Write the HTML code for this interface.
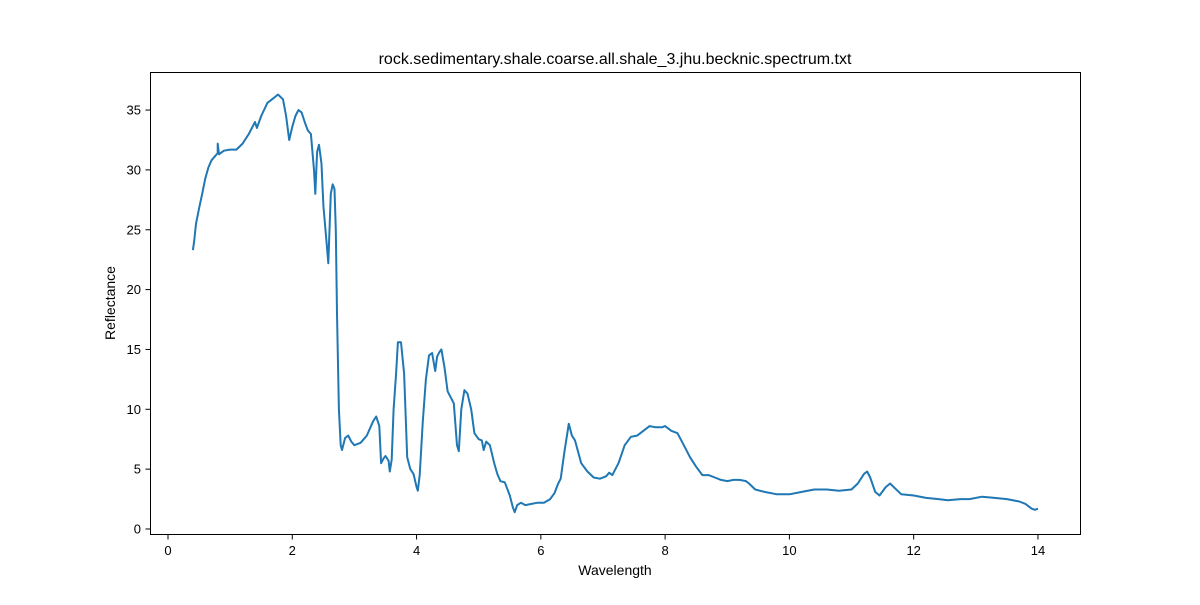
<!DOCTYPE html>
<html><head><meta charset="utf-8"><style>
body{margin:0;background:#fff;}
svg text{font-family:"Liberation Sans","DejaVu Sans",sans-serif;fill:#000;}
</style></head><body>
<svg id="chart" width="1200" height="600" xmlns="http://www.w3.org/2000/svg">
<rect width="1200" height="600" fill="#fff"/>
<text x="615" y="64" font-size="16" text-anchor="middle">rock.sedimentary.shale.coarse.all.shale_3.jhu.becknic.spectrum.txt</text>
<g id="xticks"></g><g id="yticks"></g>
<polyline id="line" fill="none" stroke="#1f77b4" stroke-width="2" stroke-linejoin="round"/>
<rect x="150.5" y="72.5" width="930" height="462" fill="none" stroke="#000" stroke-width="1"/>
<text x="615" y="575" font-size="14" text-anchor="middle">Wavelength</text>
<text x="115" y="303" font-size="14" text-anchor="middle" transform="rotate(-90 115 303)">Reflectance</text>
</svg>
<script>
const wavelengths=[0.4,0.42,0.45,0.5,0.55,0.6,0.65,0.7,0.75,0.8,0.8,0.82,0.9,1.0,1.1,1.2,1.3,1.35,1.4,1.43,1.5,1.6,1.7,1.77,1.85,1.9,1.95,2.0,2.05,2.1,2.15,2.2,2.25,2.3,2.35,2.37,2.4,2.43,2.47,2.5,2.55,2.58,2.62,2.65,2.68,2.7,2.72,2.75,2.78,2.8,2.85,2.9,2.95,3.0,3.1,3.2,3.3,3.35,3.4,3.43,3.47,3.5,3.55,3.57,3.6,3.63,3.67,3.7,3.75,3.8,3.85,3.9,3.95,4.0,4.02,4.05,4.1,4.15,4.2,4.25,4.3,4.33,4.37,4.4,4.45,4.5,4.55,4.6,4.65,4.68,4.72,4.77,4.82,4.88,4.93,5.0,5.05,5.08,5.12,5.18,5.25,5.3,5.35,5.42,5.5,5.55,5.58,5.62,5.68,5.75,5.85,5.95,6.05,6.15,6.22,6.28,6.32,6.38,6.45,6.5,6.55,6.65,6.75,6.85,6.95,7.05,7.1,7.15,7.25,7.35,7.45,7.55,7.65,7.75,7.85,7.95,8.0,8.1,8.2,8.3,8.4,8.5,8.6,8.7,8.8,8.9,9.0,9.1,9.2,9.3,9.35,9.45,9.6,9.8,10.0,10.2,10.4,10.6,10.8,11.0,11.1,11.2,11.25,11.3,11.38,11.45,11.55,11.62,11.7,11.8,12.0,12.2,12.4,12.55,12.75,12.9,13.1,13.3,13.5,13.7,13.8,13.9,13.95,14.0];
const reflectance=[23.3,24,25.5,26.8,28,29.3,30.2,30.8,31.1,31.4,32.2,31.3,31.6,31.7,31.7,32.2,33.0,33.5,34.0,33.5,34.5,35.6,36.0,36.3,35.9,34.5,32.5,33.6,34.5,35.0,34.8,34.0,33.3,33.0,30.0,28,31.5,32.1,30.5,27,24,22.2,28,28.8,28.4,25,18,10,7,6.6,7.6,7.8,7.3,7.0,7.2,7.8,9.0,9.4,8.6,5.5,5.9,6.1,5.7,4.8,5.8,10,13,15.6,15.6,13,6,5.0,4.6,3.5,3.2,4.5,9,12.5,14.5,14.7,13.2,14.4,14.8,15.0,13.5,11.5,11.0,10.5,7,6.5,10,11.6,11.3,10,8.0,7.5,7.4,6.6,7.3,7.0,5.5,4.6,4.0,3.9,2.8,1.8,1.4,2.0,2.2,2.0,2.1,2.2,2.2,2.5,3.0,3.8,4.2,6.5,8.8,7.8,7.4,5.5,4.8,4.3,4.2,4.4,4.7,4.5,5.5,7.0,7.7,7.8,8.2,8.6,8.5,8.5,8.6,8.2,8.0,7.0,6.0,5.2,4.5,4.5,4.3,4.1,4.0,4.1,4.1,4.0,3.8,3.3,3.1,2.9,2.9,3.1,3.3,3.3,3.2,3.3,3.8,4.6,4.8,4.3,3.1,2.8,3.5,3.8,3.4,2.9,2.8,2.6,2.5,2.4,2.5,2.5,2.7,2.6,2.5,2.3,2.1,1.7,1.6,1.7];
const xTicks=[0,2,4,6,8,10,12,14];
const yTicks=[0,5,10,15,20,25,30,35];
const NS="http://www.w3.org/2000/svg";
const xs=v=>168+62.14*v;
const ys=v=>529-11.97*v;
const xg=document.getElementById('xticks'),yg=document.getElementById('yticks');
xTicks.forEach(t=>{
  const l=document.createElementNS(NS,'line');
  
  
  l.setAttribute('x1',xs(t));l.setAttribute('x2',xs(t));l.setAttribute('y1',534.5);l.setAttribute('y2',539.5);l.setAttribute('stroke','#000');
  xg.appendChild(l);
  const tx=document.createElementNS(NS,'text');
  
  
  tx.setAttribute('x',xs(t));tx.setAttribute('y',555);tx.setAttribute('font-size','13');tx.setAttribute('text-anchor','middle');
  tx.textContent=t;xg.appendChild(tx);
});
yTicks.forEach(t=>{
  const l=document.createElementNS(NS,'line');
  
  
  l.setAttribute('x1',145.5);l.setAttribute('x2',150.5);l.setAttribute('y1',ys(t));l.setAttribute('y2',ys(t));l.setAttribute('stroke','#000');
  yg.appendChild(l);
  const tx=document.createElementNS(NS,'text');
  
  
  tx.setAttribute('x',141);tx.setAttribute('y',ys(t)+4.5);tx.setAttribute('font-size','13');tx.setAttribute('text-anchor','end');
  tx.textContent=t;yg.appendChild(tx);
});
document.getElementById('line').setAttribute('points',wavelengths.map((w,i)=>xs(w).toFixed(1)+','+ys(reflectance[i]).toFixed(1)).join(' '));
</script>
</body></html>
